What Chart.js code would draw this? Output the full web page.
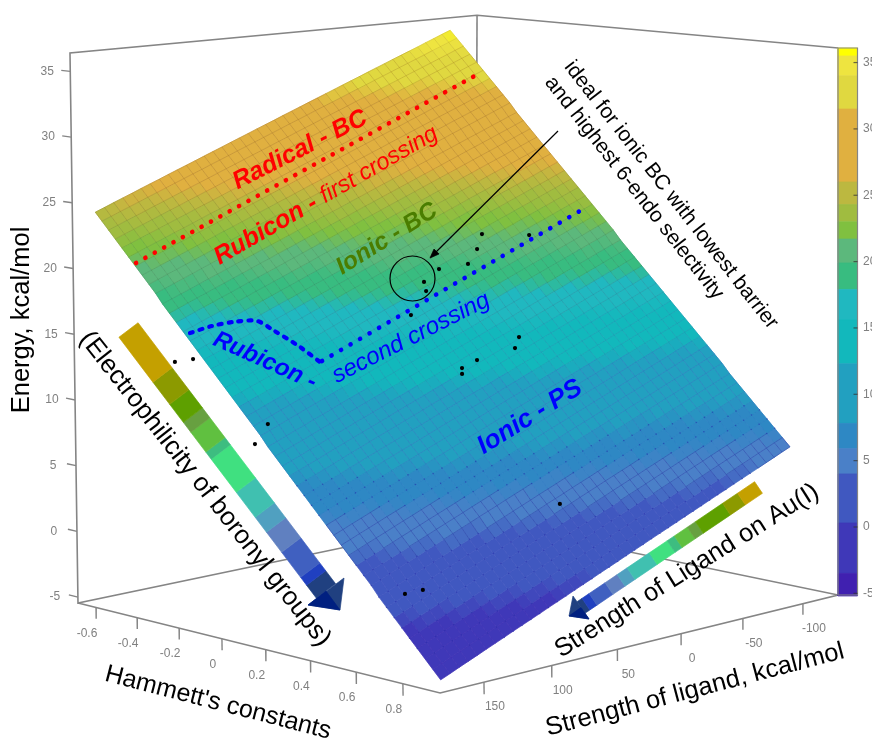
<!doctype html>
<html><head><meta charset="utf-8">
<style>html,body{margin:0;padding:0;background:#fff}canvas{display:block}</style>
<script src="https://cdn.jsdelivr.net/npm/chart.js@4"></script></head>
<body><canvas id="c" width="872" height="742"></canvas>
<script>
// ---- values ----
const hammettGrid=[-.586,-.554,-.522,-.49,-.458,-.426,-.394,-.362,-.33,-.298,-.266,-.234,-.202,-.17,-.138,-.106,-.074,-.042,-.01,.022,.054,.086,.118,.15,.182,.214,.246,.278,.31,.342,.374,.406,.438,.47,.502,.534,.566,.598,.63,.662,.694,.726,.758,.79,.822,.854,.886,.918,.95];
const ligandGrid=[180,173.4,166.8,160.2,153.6,147,140.4,133.8,127.2,120.6,114,107.4,100.8,94.2,87.6,81,74.4,67.8,61.2,54.6,48,41.4,34.8,28.2,21.6,15,8.4,1.8,-4.8,-11.4,-18,-24.6,-31.2,-37.8,-44.4,-51,-57.6,-64.2,-70.8,-77.4,-84,-90.6];
const energyAlongHammett=[24.5,23.9,23.3,22.7,22.1,21.5,20.9,20.3,19.7,19.1,18.4,17.8,17.2,16.6,16.0,15.4,14.8,14.2,13.6,13.0,12.4,11.8,11.2,10.6,10.0,9.3,8.7,8.1,7.5,6.9,6.3,5.7,5.1,4.5,3.9,3.3,2.7,2.1,1.5,0.9,0.2,-0.4,-1.0,-1.6,-2.2,-2.8,-3.4,-4.0,-4.6];
const energyShiftAlongLigand=[0,.27,.55,.82,1.09,1.37,1.64,1.91,2.19,2.46,2.73,3.0,3.28,3.55,3.82,4.1,4.37,4.64,4.92,5.19,5.46,5.74,6.01,6.28,6.56,6.83,7.1,7.37,7.65,7.92,8.19,8.47,8.74,9.01,9.29,9.56,9.83,10.1,10.38,10.65,10.93,11.2];
const colourSkewAlongHammett=[-.3,-.3,-.3,-.3,-.3,-.3,-.3,-.3,-.3,-.3,-.2,-.2,-.1,-.1,0,0,0,0,0,0,0,0,0,0,-.1,-.2,-.3,-.4,-.5,-.6,-.7,-.8,-.9,-1,-1.1,-1.2,-1.3,-1.4,-1.5,-1.6,-1.7,-1.7,-1.7,-1.7,-1.7,-1.7,-1.7,-1.7,-1.7];
const measuredPoints=[[-.218,179,14.2],[-.132,179,14.66],[.149,179,9.27],[.163,171.8,10.64],[.724,166.4,.24],[.74,156.2,.36],[.745,54.6,4.47],[.3,50.6,13.07],[.314,53,12.71],[.302,39.4,13.49],[.327,14.3,14.05],[.307,7.6,14.72],[.102,55.8,16.6],[.04,35.3,18.64],[.065,37.9,18.05],[.029,21.8,19.4],[.057,4,19.6],[.033,-7.3,20.53],[.002,-16.5,21.49],[.072,-41.9,21.22]];
const hammettTicks=[-.6,-.4,-.2,0,.2,.4,.6,.8];
const ligandTicks=[-100,-50,0,50,100,150];
const energyTicks=[-5,0,5,10,15,20,25,30,35];
const colorbarTicks=[-5,0,5,10,15,20,25,30,35];
const bandFloor=[-5.2,-3.5,.3,4,5.9,7.8,12.3,15.6,17.9,19.9,21.7,23,24.3,26,31.5,34,35.5,36.1];
const surfaceFloor=[-5.2,-3.5,.3,4,5.9,7.8,12.3,15.6,17.9,19.9,21.7,23,24.3,25.5,31.5,34,35.2,36.1];
const bandColor=['#4020B0','#3F38B8','#4058C0','#4A80C8','#2E88C4','#22A0C0','#12B8BC','#20B8C0','#38BC80','#5CB87C','#80C040','#A0BC40','#BCB840','#E0B040','#E0D840','#EEE440','#FFFF00'];
const bandInk=['rgba(50,10,150,.5)','rgba(60,30,170,.18)','rgba(50,50,175,.05)','rgba(45,70,170,.55)','rgba(30,110,190,.3)','rgba(45,125,190,.6)','rgba(30,145,175,.45)','rgba(40,140,160,.45)','rgba(50,140,100,.4)','rgba(70,140,90,.4)','rgba(90,150,60,.4)','rgba(120,140,50,.4)','rgba(140,130,40,.4)','rgba(170,120,40,.42)','rgba(175,145,30,.42)','rgba(190,170,40,.35)','rgba(200,190,30,.3)'];
const arrowBands=['#C4A000','#8C9A00','#5EA000','#67A040','#60C040','#3DBD80','#40E080','#40C0B0','#50A0C0','#6080C0','#4060C0','#2040C0','#204080'];
const leftArrowStops=[0,.172,.257,.326,.364,.44,.467,.594,.69,.747,.824,.92,.95,1];
const lowerArrowStops=[0,.096,.18,.333,.379,.452,.492,.593,.718,.774,.842,.932,.972,1];
// ---- 3-D box projection ----
const HB=[-.689,.956], LB=[181.6,-130], EB=[-5.45,36.4];
function project(H,L,E){const u=.4188+.608*H,v=.583-.00321*L,t=(E+5.45)/41.85,w=1-.08437*u+.08975*v;
 return {x:(324.9*u+439.6*v+78)/w+t*(-8+10*v-2*u),y:(31.5*u-36.3*v+603)/w-550*t/w};}
const energyAt=(i,j)=>energyAlongHammett[i]+energyShiftAlongLigand[j];
const colourAt=(i,j)=>energyAt(i,j)+colourSkewAlongHammett[i]*(j/20.5-1);
const bandOf=e=>{let k=0;while(k<bandColor.length-1&&e>=surfaceFloor[k+1])k++;return k;};
const rgb=h=>[1,3,5].map(k=>parseInt(h.substr(k,2),16));
const mix=cs=>{const r=cs.map(rgb);return 'rgb('+[0,1,2].map(k=>Math.round((r[0][k]+r[1][k]+r[2][k]+r[3][k])/4)).join(',')+')';};
const node=(i,j)=>project(hammettGrid[i],ligandGrid[j],energyAt(i,j));
const ds=[];
const poly=(data,color,order,extra={})=>ds.push(Object.assign({data,showLine:true,fill:'shape',backgroundColor:color,borderColor:color,borderWidth:.7,pointRadius:0,tension:0,order,clip:false},extra));
const stroke=(data,color,width,order,extra={})=>ds.push(Object.assign({data,showLine:true,fill:false,borderColor:color,borderWidth:width,pointRadius:0,tension:0,order,clip:false},extra));
// box
const BOX='#858585';
const box=[[HB[0],LB[0],EB[0]],[HB[1],LB[0],EB[0]],[HB[1],LB[1],EB[0]],[HB[0],LB[1],EB[0]],[HB[0],LB[0],EB[0]],[HB[0],LB[0],EB[1]],[HB[0],LB[1],EB[1]],[HB[1],LB[1],EB[1]]].map(p=>project(...p));
stroke(box,BOX,1.6,90);
stroke([project(HB[0],LB[1],EB[0]),project(HB[0],LB[1],EB[1])],BOX,1.6,90);
hammettTicks.forEach(h=>stroke([project(h,LB[0],EB[0]),project(h,LB[0],EB[0]-.85)],BOX,1.4,90));
ligandTicks.forEach(l=>stroke([project(HB[1],l,EB[0]),project(HB[1],l,EB[0]-.85)],BOX,1.4,90));
energyTicks.forEach(e=>stroke([project(HB[0],LB[0],e),project(HB[0]-.045,LB[0],e)],BOX,1.4,90));
// surface cells
for(let i=0;i<hammettGrid.length-1;i++)for(let j=0;j<ligandGrid.length-1;j++){
 const p=node(i,j),c=[[i,j],[i+1,j],[i,j+1],[i+1,j+1]].map(([a,b])=>bandColor[bandOf(colourAt(a,b))]);
 poly([p,node(i+1,j),node(i+1,j+1),node(i,j+1),p],mix(c),50);
}
// surface mesh lines
for(let i=0;i<hammettGrid.length;i++){
 stroke(ligandGrid.map((_,j)=>node(i,j)),'rgba(0,0,0,.2)',1,40,{segment:{borderColor:c=>bandInk[bandOf(colourAt(i,c.p0DataIndex))]}});
}
for(let j=0;j<ligandGrid.length;j++){
 stroke(hammettGrid.map((_,i)=>node(i,j)),'rgba(0,0,0,.2)',1,40,{segment:{borderColor:c=>bandInk[bandOf(colourAt(c.p0DataIndex,j))]}});
}
// mesh nodes that remain visible as dots
const nodeDots=[];
hammettGrid.forEach((_,i)=>ligandGrid.forEach((_,j)=>{const e=colourAt(i,j);if((e>-1.6&&e<4)||(e>5.9&&e<7.8))nodeDots.push(node(i,j));}));
ds.push({data:nodeDots,showLine:false,pointRadius:.8,pointBorderWidth:0,pointBackgroundColor:'rgba(40,50,170,.55)',order:39,clip:false});
// measured points
ds.push({data:measuredPoints.map(p=>project(...p)),showLine:false,pointRadius:2.1,pointBorderWidth:0,pointBackgroundColor:'#000',order:8,clip:false});
// colorbar
const cbY=e=>527-13.27*e, CB=[838,857.5];
bandColor.forEach((c,k)=>{const a=cbY(bandFloor[k]),b=cbY(bandFloor[k+1]);poly([{x:CB[0],y:a},{x:CB[1],y:a},{x:CB[1],y:b},{x:CB[0],y:b},{x:CB[0],y:a}],c,30);});
stroke([{x:CB[0],y:595},{x:CB[1],y:595},{x:CB[1],y:48},{x:CB[0],y:48},{x:CB[0],y:595}],BOX,1.2,29);
colorbarTicks.forEach(e=>stroke([{x:CB[1]-4,y:cbY(e)},{x:CB[1],y:cbY(e)}],'rgba(50,50,50,.7)',1.2,28));
// guide arrows
function strip(S,N,half,stops,head,headColor){
 const dx=N.x-S.x,dy=N.y-S.y,l=Math.hypot(dx,dy),nx=-dy/l*half,ny=dx/l*half;
 arrowBands.forEach((c,k)=>{const a=stops[k],b=stops[k+1],A={x:S.x+dx*a,y:S.y+dy*a},B={x:S.x+dx*b,y:S.y+dy*b};
  const p={x:A.x+nx,y:A.y+ny};poly([p,{x:B.x+nx,y:B.y+ny},{x:B.x-nx,y:B.y-ny},{x:A.x-nx,y:A.y-ny},p],c,12);});
 poly([...head,head[0]],headColor,11);
 poly([N,head[1],head[2],N],'#002080',10);
}
strip({x:128.5,y:330},{x:326,y:591},12,leftArrowStops,[{x:344,y:578},{x:308,y:605},{x:340,y:610}],'#204080');
strip({x:758.5,y:487.5},{x:581,y:607.5},7,lowerArrowStops,[{x:573,y:596},{x:569,y:616},{x:589,y:619}],'#204080');
// crossing lines
stroke([{x:136,y:263},{x:480,y:73}],'#FF0000',4.6,9,{borderDash:[.1,10.6],borderCapStyle:'round'});
stroke([{x:322,y:361},{x:585,y:208}],'#0000FF',4.6,9,{borderDash:[.1,10.9],borderCapStyle:'round'});
stroke([{x:190,y:333},{x:212,y:326},{x:233,y:322},{x:257,y:321},{x:273,y:330},{x:300,y:347},{x:320,y:362}],'#0000FF',4.2,9,{borderDash:[3,7],borderCapStyle:'round',tension:.3});
// callout
ds.push({data:[{x:412.5,y:278.5}],showLine:false,pointRadius:22.5,pointBorderWidth:1.2,pointBorderColor:'#000',pointBackgroundColor:'rgba(0,0,0,0)',order:7,clip:false});
stroke([{x:558,y:131},{x:434,y:254}],'#000',1.2,7);
poly([{x:430,y:258},{x:439,y:254},{x:434,y:249},{x:430,y:258}],'#000',7);

const SANS='"Liberation Sans",Arial,sans-serif';
const texts=[
 {t:'Energy, kcal/mol',x:22,y:320,a:-90,f:`25.5px ${SANS}`,c:'#000'},
 {t:"Hammett's constants",x:218,y:703,a:14.5,f:`25px ${SANS}`,c:'#000'},
 {t:'Strength of ligand, kcal/mol',x:695,y:690,a:-14.7,f:`25.5px ${SANS}`,c:'#000'},
 {t:'Strength of Ligand on Au(I)',x:687,y:571,a:-32,f:`25.5px ${SANS}`,c:'#000'},
 {t:'(Electrophilicity of boronyl groups)',x:205,y:489,a:52,f:`26px ${SANS}`,c:'#000'},
 {t:'Radical - BC',x:300,y:150,a:-27,f:`italic bold 25px ${SANS}`,c:'#FF0000'},
 {t:'Ionic - BC',x:387,y:239,a:-32,f:`italic bold 24.5px ${SANS}`,c:'#4A7D00'},
 {t:'Rubicon -',x:265,y:361,a:24,f:`italic bold 24px ${SANS}`,c:'#0000FF'},
 {t:'second crossing',x:411,y:338,a:-27,f:`italic 24px ${SANS}`,c:'#0000FF'},
 {t:'Ionic - PS',x:530,y:417,a:-32,f:`italic bold 26px ${SANS}`,c:'#0000FF'},
 {t:'ideal for ionic BC with lowest barrier',x:671,y:195,a:52,f:`21px ${SANS}`,c:'#000'},
 {t:'and highest 6-endo selectivity',x:634,y:188,a:52,f:`21px ${SANS}`,c:'#000'}
];
const labels={id:'labels',afterDatasetsDraw(ch){
 const ctx=ch.ctx,X=ch.scales.x,Y=ch.scales.y;
 const put=(t,x,y,a,f,c,al='center')=>{ctx.save();ctx.translate(X.getPixelForValue(x),Y.getPixelForValue(y));ctx.rotate(a*Math.PI/180);ctx.font=f;ctx.fillStyle=c;ctx.textAlign=al;ctx.textBaseline='middle';ctx.fillText(t,0,0);ctx.restore();};
 const TICK=`12px ${SANS}`,G='#808080';
 hammettTicks.forEach(h=>{const p=project(h,LB[0],EB[0]);put(String(h),p.x-9,p.y+26,0,TICK,G);});
 ligandTicks.forEach(l=>{const p=project(HB[1],l,EB[0]);put(String(l),p.x+11,p.y+25,0,TICK,G);});
 energyTicks.forEach(e=>{const p=project(HB[0],LB[0],e);put(String(e),p.x-23,p.y,0,TICK,G);});
 colorbarTicks.forEach(e=>put(String(e),863,cbY(e),0,TICK,G,'left'));
 texts.forEach(o=>put(o.t,o.x,o.y,o.a,o.f,o.c));
 // mixed-weight run along one baseline
 ctx.save();ctx.translate(X.getPixelForValue(216),Y.getPixelForValue(259));ctx.rotate(-30*Math.PI/180);ctx.fillStyle='#FF0000';ctx.textBaseline='middle';ctx.textAlign='left';
 ctx.font=`italic bold 25px ${SANS}`;ctx.fillText('Rubicon - ',0,0);const w=ctx.measureText('Rubicon - ').width;
 ctx.font=`italic 23.5px ${SANS}`;ctx.fillText('first crossing',w,0);ctx.restore();
}};
new Chart(document.getElementById('c'),{type:'scatter',data:{datasets:ds},plugins:[labels],options:{
 responsive:false,animation:false,events:[],layout:{padding:0,autoPadding:false},
 plugins:{legend:{display:false},tooltip:{enabled:false},title:{display:false}},
 scales:{x:{type:'linear',min:0,max:872,display:false},y:{type:'linear',min:0,max:742,reverse:true,display:false}}
}});
</script></body></html>
